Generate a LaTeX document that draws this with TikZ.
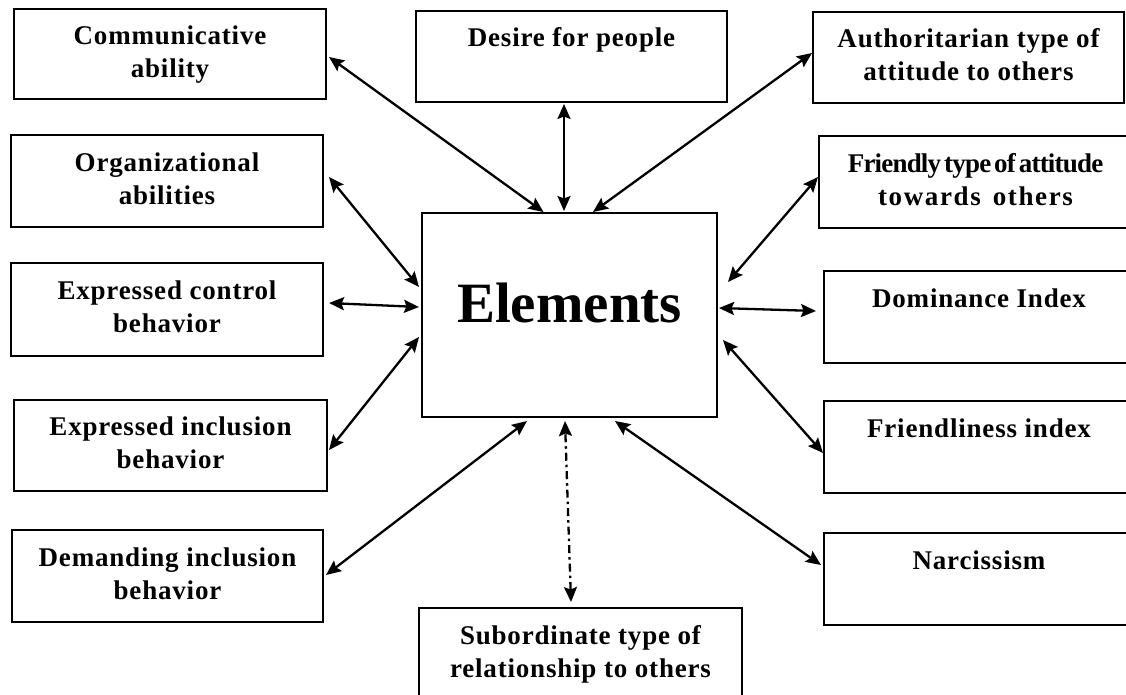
\documentclass[tikz,border=0pt]{standalone}
\usepackage{fontspec}
\setmainfont{Liberation Serif}
\usetikzlibrary{arrows.meta}

% two text lines, each with a strut so every box sets its text the same way
\newcommand\twoline[2]{\strut#1\\\strut#2}

\tikzset{
  box/.style={draw, line width=2pt, rectangle, inner sep=0pt, align=center,
    font=\fontsize{27}{33}\selectfont\bfseries\addfontfeatures{LetterSpace=3}},
  centrebox/.style={draw, line width=2pt, rectangle, inner sep=0pt,
    minimum width=295pt, minimum height=204pt, text depth=24pt,
    font=\fontsize{57}{60}\selectfont\bfseries},
  tip/.tip={Stealth[length=15pt,width=13pt,inset=2.5pt]},
  link/.style={line width=2.3pt, tip-tip},
  dotlink/.style={link, dash pattern=on 8pt off 4pt on 2.5pt off 4pt},
}

\begin{document}
\begin{tikzpicture}[x=1pt, y=-1pt]
\useasboundingbox (0,0) rectangle (1126,695);

% central element
\node[centrebox] (elem) at (569.5,315) {Elements};

% left column
\node[box, minimum width=312pt, minimum height=90pt] (comm) at (170,54)
  {\twoline{Communicative}{ability}};
\node[box, minimum width=312pt, minimum height=92pt] (org) at (167,181)
  {\twoline{Organizational}{abilities}};
\node[box, minimum width=312pt, minimum height=93pt] (ectrl) at (167,309.5)
  {\twoline{Expressed control}{behavior}};
\node[box, minimum width=313pt, minimum height=91pt] (eincl) at (170.5,445.5)
  {\twoline{Expressed inclusion}{behavior}};
\node[box, minimum width=311pt, minimum height=92pt] (demand) at (167.5,576)
  {\twoline{Demanding inclusion}{behavior}};

% middle column
\node[box, minimum width=311pt, minimum height=91pt] (desire) at (571.5,56.5)
  {\twoline{Desire for people}{}};
\node[box, minimum width=323pt, minimum height=92pt] (sub) at (580.5,654)
  {\twoline{Subordinate type of}{relationship to others}};

% right column
\node[box, minimum width=311pt, minimum height=91pt] (auth) at (968.5,57.5)
  {\twoline{Authoritarian type of}{attitude to others}};
\node[box, minimum width=313pt, minimum height=92pt] (friendly) at (975.5,182)
  {\twoline{{\addfontfeatures{LetterSpace=-3}Friendly\hspace{3pt}type\hspace{3pt}of\hspace{3pt}attitude}}{{\addfontfeatures{LetterSpace=6}towards\hspace{12pt}others}}};
\node[box, minimum width=310pt, minimum height=92pt] (dom) at (979,317)
  {\twoline{Dominance Index}{}};
\node[box, minimum width=310pt, minimum height=92pt] (fidx) at (979,447)
  {\twoline{Friendliness index}{}};
\node[box, minimum width=310pt, minimum height=92pt] (narc) at (979,579)
  {\twoline{Narcissism}{}};

% connectors, left side
\draw[link] ([shift={(2,3)}]comm.east) -- ([shift={(-26,0)}]elem.north);
\draw[link] ([shift={(5,-4)}]org.east) -- ([shift={(-2,-28)}]elem.west);
\draw[link] ([shift={(5,-6.5)}]ectrl.east) -- ([shift={(-2,-8)}]elem.west);
\draw[link] ([shift={(1,4.5)}]eincl.east) -- ([shift={(-2,22)}]elem.west);
\draw[link] ([shift={(2,-1)}]demand.east) -- ([shift={(-42.5,3)}]elem.south);

% connectors, top and bottom
\draw[link] ([shift={(-7.5,1)}]desire.south) -- ([shift={(-5.5,-1)}]elem.north);
\draw[dotlink] ([shift={(-9.5,-5)}]sub.north) -- ([shift={(-4.5,3)}]elem.south);

% connectors, right side
\draw[link] ([shift={(0,-4.5)}]auth.west) -- ([shift={(23.5,0)}]elem.north);
\draw[link] ([shift={(0,-5)}]friendly.west) -- ([shift={(10,-33)}]elem.east);
\draw[link] ([shift={(-7,-6)}]dom.west) -- ([shift={(1,-7)}]elem.east);
\draw[link] ([shift={(0,6)}]fidx.west) -- ([shift={(5,25)}]elem.east);
\draw[link] ([shift={(-2,-14)}]narc.west) -- ([shift={(45.5,3)}]elem.south);
\end{tikzpicture}
\end{document}
